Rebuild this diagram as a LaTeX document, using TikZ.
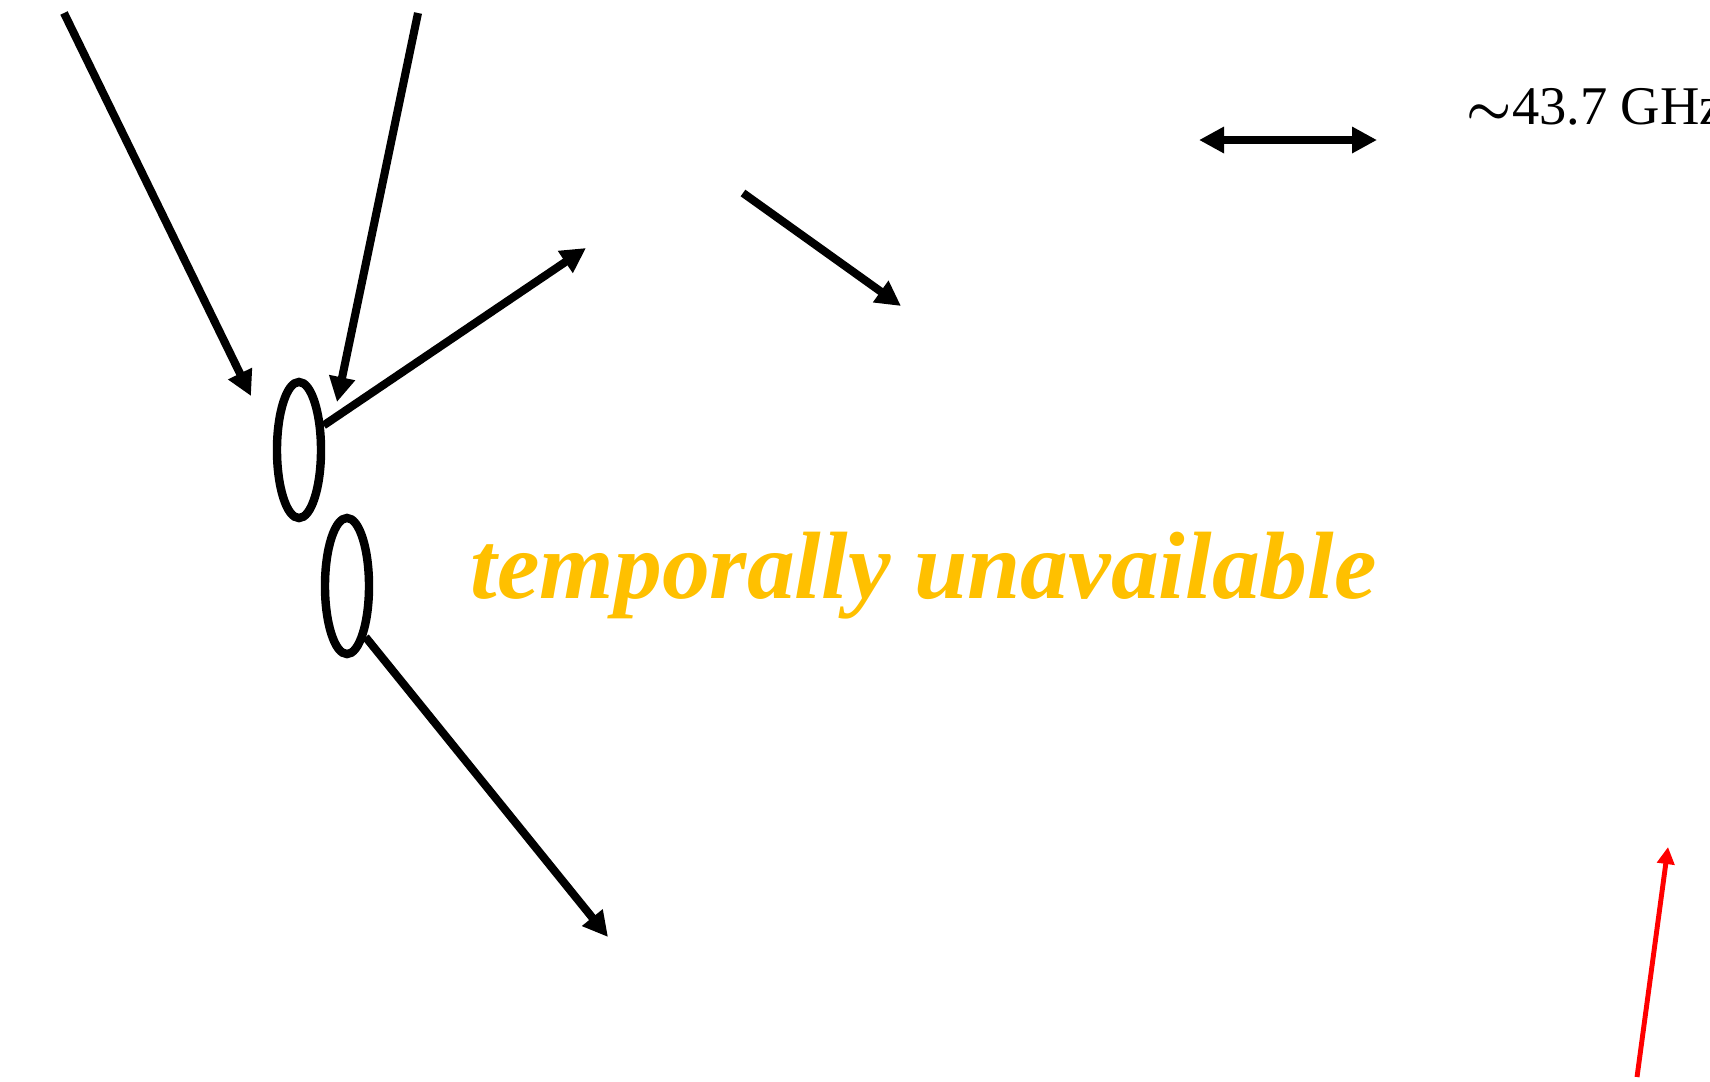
\documentclass[tikz,border=0pt]{standalone}
\usepackage{fontspec}
\usepackage{tikz}
\usetikzlibrary{arrows.meta,positioning,shapes.geometric}
\setmainfont{Liberation Serif}
\definecolor{ink}{HTML}{000000}
\definecolor{beamred}{HTML}{FF0000}
\definecolor{notice}{HTML}{FFC000}
\tikzset{
  ring/.style={draw=ink,ellipse,line width=2.4pt,inner sep=0pt,minimum width=0.44cm,minimum height=1.36cm},
  arrow/.style={-{Triangle[length=2.5mm,width=2.5mm]},line width=2.3pt,ink},
  twoway/.style={{Triangle[length=2.5mm,width=2.5mm]}-{Triangle[length=2.5mm,width=2.5mm]},line width=2.3pt,ink},
  redarrow/.style={-{Triangle[length=1.7mm,width=1.7mm]},line width=1.4pt,beamred},
  freqlabel/.style={font=\fontsize{15.5}{19}\selectfont,inner sep=0pt,anchor=base west},
  banner/.style={font=\fontsize{27.2}{32}\selectfont\bfseries\itshape,text=notice,inner sep=0pt,anchor=base west}
}
\begin{document}
\begin{tikzpicture}[x=0.01cm,y=-0.01cm]
  \useasboundingbox (0,0) rectangle (1710,1081);

  \node[ring] (ringa) at (299,450) {};
  \node[ring] (ringb) at (347,586) {};

  \coordinate (ina) at (64,13);
  \coordinate (ina tip) at (251,396);
  \coordinate (inb) at (418,13);
  \coordinate (inb tip) at (337,402);
  \coordinate (outa) at (586,248);
  \coordinate (outb) at (608,937);
  \coordinate (side) at (743,193);
  \coordinate (side tip) at (901,306);
  \coordinate (span l) at (1199,140);
  \coordinate (span r) at (1377,140);
  \coordinate (beam) at (1637,1077);
  \coordinate (beam tip) at (1668,847);

  \draw[arrow] (ina) -- (ina tip);
  \draw[arrow] (inb) -- (inb tip);
  \draw[arrow] (ringa.45) -- (outa);
  \draw[arrow] (ringb.-70) -- (outb);
  \draw[arrow] (side) -- (side tip);
  \draw[twoway] (span l) -- (span r);
  \draw[redarrow] (beam) -- (beam tip);

  % Labels
  \node[freqlabel] (freq) at (1466,124) {{\boldmath$\sim$}43.7 GHz};
  \node[banner] (notice) at (470,598) {temporally unavailable};
\end{tikzpicture}
\end{document}
